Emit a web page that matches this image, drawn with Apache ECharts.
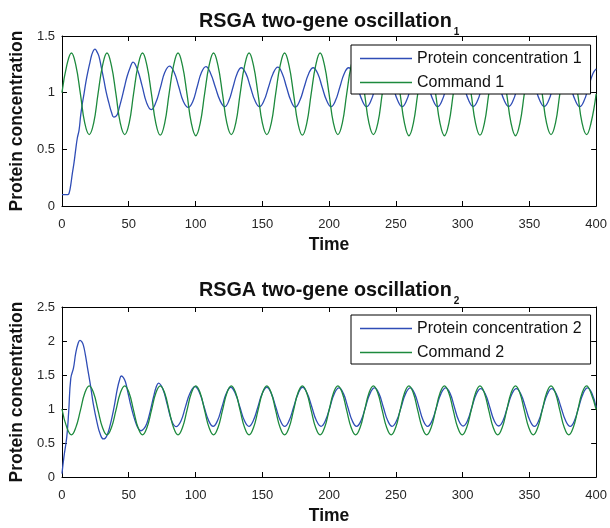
<!DOCTYPE html>
<html>
<head>
<meta charset="utf-8">
<script src="https://cdn.jsdelivr.net/npm/echarts@6/dist/echarts.min.js"></script>
<style>html,body{margin:0;padding:0;background:#fff;}#c{width:610px;height:528px;}</style>
</head>
<body>
<div id="c"></div>
<script>
// ---- data (time, value) ----
const xTicks = [0, 50, 100, 150, 200, 250, 300, 350, 400];
const yTicksTop = [0, 0.5, 1, 1.5];
const yTicksBottom = [0, 0.5, 1, 1.5, 2, 2.5];

const protein1 = [
[0,0.1],[2,0.1],[4.5,0.1],[5.5,0.12],[6.5,0.18],[7.8,0.29],[9,0.38],[10.3,0.5],[11.5,0.6],[12.8,0.67],
[14,0.8],[15.2,0.9],[16.5,0.99],[18,1.1],[19.5,1.19],[21,1.27],[22.2,1.33],[23.5,1.37],[24.7,1.385],[26.2,1.36],
[27.7,1.32],[29.5,1.22],[31.4,1.11],[33.2,1.0],[35.1,0.91],[37,0.83],[38.8,0.785],[40.2,0.79],[41.5,0.81],[43.2,0.88],
[45,0.96],[46.8,1.05],[48.7,1.14],[51,1.22],[53.2,1.27],[56.6,1.2],[60,1.06],[63.4,0.91],[66.8,0.85],[70.2,0.91],
[73.6,1.04],[77,1.18],[80.5,1.235],[84,1.18],[87.5,1.05],[91,0.92],[94.6,0.87],[97.9,0.92],[101.2,1.05],[104.5,1.18],
[107.8,1.23],[111.3,1.17],[114.8,1.05],[118.4,0.93],[121.9,0.876],
[125.0,0.93],[128.1,1.05],[131.2,1.17],[134.3,1.22],[137.7,1.17],[141.1,1.05],[144.5,0.93],[147.9,0.876],
[151.3,0.93],[154.7,1.05],[158.1,1.17],[161.6,1.225],[164.9,1.17],[168.1,1.05],[171.4,0.93],[174.7,0.872],
[178.1,0.93],[181.4,1.05],[184.8,1.17],[188.1,1.22],[191.5,1.17],[194.8,1.05],[198.2,0.93],[201.5,0.876],
[204.8,0.93],[208.1,1.05],[211.4,1.17],[214.7,1.22],[218.1,1.17],[221.4,1.05],[224.8,0.93],[228.1,0.876],
[231.4,0.93],[234.7,1.05],[238.0,1.17],[241.3,1.22],[244.7,1.17],[248.0,1.05],[251.4,0.93],[254.7,0.876],
[258.0,0.93],[261.3,1.05],[264.6,1.17],[267.9,1.22],[271.3,1.17],[274.6,1.05],[278.0,0.93],[281.3,0.876],
[284.6,0.93],[287.9,1.05],[291.2,1.17],[294.5,1.22],[297.9,1.17],[301.2,1.05],[304.6,0.93],[307.9,0.878],
[311.2,0.93],[314.5,1.05],[317.8,1.17],[321.1,1.22],[324.5,1.17],[327.8,1.05],[331.2,0.93],[334.5,0.878],
[337.8,0.93],[341.1,1.05],[344.4,1.17],[347.7,1.22],[351.1,1.17],[354.4,1.05],[357.8,0.93],[361.1,0.878],
[364.4,0.93],[367.7,1.05],[371.0,1.17],[374.3,1.22],[377.7,1.17],[381.0,1.05],[384.4,0.93],[387.7,0.876],
[391.0,0.93],[394.3,1.05],[397.6,1.17],[400,1.21]
];

const command1 = [
[0,1.0],[3.6,1.24],[7.1,1.35],[10.4,1.24],[13.8,0.99],[17.1,0.73],[20.4,0.63],[23.7,0.73],
[27.0,0.99],[30.4,1.24],[33.7,1.35],[37.0,1.24],[40.4,0.99],[43.7,0.73],[47.0,0.63],[50.3,0.73],
[53.6,0.99],[57.0,1.24],[60.3,1.35],[63.6,1.24],[67.0,0.99],[70.3,0.73],[73.6,0.625],[76.9,0.73],
[80.2,0.99],[83.6,1.24],[86.9,1.35],[90.2,1.24],[93.6,0.99],[96.9,0.73],[100.2,0.62],[103.5,0.73],
[106.8,0.99],[110.2,1.24],[113.5,1.35],[116.8,1.24],[120.2,0.99],[123.5,0.73],[126.8,0.63],[130.1,0.73],
[133.4,0.99],[136.8,1.24],[140.1,1.35],[143.4,1.24],[146.8,0.99],[150.1,0.73],[153.4,0.63],[156.7,0.73],
[160.0,0.99],[163.4,1.24],[166.7,1.35],[170.0,1.24],[173.4,0.99],[176.7,0.73],[180.0,0.625],[183.3,0.73],
[186.6,0.99],[190.0,1.24],[193.3,1.35],[196.6,1.24],[200.0,0.99],[203.3,0.73],[206.6,0.63],[209.9,0.73],
[213.2,0.99],[216.6,1.24],[219.9,1.35],[223.2,1.24],[226.6,0.99],[229.9,0.73],[233.2,0.63],[236.5,0.73],
[239.8,0.99],[243.2,1.24],[246.5,1.35],[249.8,1.24],[253.2,0.99],[256.5,0.73],[259.8,0.62],[263.1,0.73],
[266.4,0.99],[269.8,1.24],[273.1,1.35],[276.4,1.24],[279.8,0.99],[283.1,0.73],[286.4,0.62],[289.7,0.73],
[293.0,0.99],[296.4,1.24],[299.7,1.35],[303.0,1.24],[306.4,0.99],[309.7,0.73],[313.0,0.625],[316.3,0.73],
[319.6,0.99],[323.0,1.24],[326.3,1.35],[329.6,1.24],[333.0,0.99],[336.3,0.73],[339.6,0.62],[342.9,0.73],
[346.2,0.99],[349.6,1.24],[352.9,1.35],[356.2,1.24],[359.6,0.99],[362.9,0.73],[366.2,0.63],[369.5,0.73],
[372.8,0.99],[376.2,1.24],[379.5,1.35],[382.8,1.24],[386.2,0.99],[389.5,0.73],[392.8,0.63],[396.1,0.73],
[400,0.99]
];

const protein2 = [
[0,0.05],[1.5,0.3],[3.6,0.59],[5,0.95],[6.6,1.45],[8.6,1.6],[10.3,1.82],[12,1.96],[13.5,2.01],[14.8,1.99],
[16,1.94],[17.5,1.8],[19,1.62],[21.5,1.33],[23.4,1.08],[26.4,0.79],[28.5,0.64],[30.9,0.56],[32.4,0.57],[33.9,0.62],
[35.8,0.74],[37.6,0.89],[39.5,1.08],[41.3,1.28],[43,1.42],[44.5,1.485],[46,1.46],[47.5,1.4],[49.3,1.25],[51.2,1.08],
[53.3,0.92],[55.4,0.79],[57.3,0.71],[59.2,0.68],[61.4,0.71],[63.6,0.79],[66.1,0.97],[68.6,1.18],[70.5,1.32],[72.3,1.38],
[75.6,1.29],[78.9,1.06],[82.1,0.83],[85.4,0.74],[89,0.82],[92.5,1.035],[96,1.24],[99.6,1.33],[103,1.24],[106.4,1.035],
[109.8,0.83],[113.2,0.745],[116.5,0.83],[119.8,1.03],[123.1,1.23],[126.4,1.32],[129.8,1.23],[133.2,1.03],[136.6,0.83],[140,0.745],
[143.3,0.83],[146.7,1.03],[150,1.23],[153.4,1.32],[156.7,1.23],[160.1,1.03],[163.5,0.83],[166.8,0.745],[170.1,0.83],[173.5,1.03],
[176.9,1.23],[180.2,1.32],[183.6,1.23],[187.1,1.03],[190.5,0.83],[194,0.745],[197.3,0.83],[200.7,1.03],[204,1.23],[207.4,1.31],
[210.7,1.23],[214,1.03],[217.3,0.83],[220.6,0.745],[224,0.83],[227.3,1.03],[230.7,1.23],[234,1.31],[237.3,1.23],[240.6,1.03],
[243.9,0.83],[247.2,0.745],[250.6,0.83],[254,1.03],[257.4,1.23],[260.8,1.31],[264,1.23],[267.3,1.03],[270.5,0.83],[273.8,0.745],
[277.2,0.83],[280.5,1.03],[283.9,1.23],[287.3,1.31],[290.6,1.23],[293.8,1.03],[297.1,0.83],[300.4,0.75],[303.7,0.83],[307,1.03],
[310.3,1.22],[313.6,1.3],[317,1.22],[320.3,1.03],[323.6,0.83],[327,0.75],[330.3,0.83],[333.6,1.03],[336.9,1.22],[340.2,1.3],
[343.6,1.22],[347,1.03],[350.4,0.83],[353.8,0.745],[357,0.83],[360.2,1.03],[363.5,1.22],[366.7,1.3],[370.2,1.22],[373.6,1.03],
[377.1,0.83],[380.6,0.745],[383.8,0.83],[387,1.03],[390.3,1.23],[393.5,1.31],[396.8,1.23],[400,1.02]
];

const command2 = [
[0,1.0],[3.6,0.73],[7.1,0.62],[10.4,0.73],[13.8,0.98],[17.1,1.235],[20.4,1.34],[23.7,1.235],
[27.0,0.98],[30.4,0.725],[33.7,0.62],[37.0,0.725],[40.4,0.98],[43.7,1.235],[47.0,1.34],[50.3,1.235],
[53.6,0.98],[57.0,0.725],[60.3,0.62],[63.6,0.725],[67.0,0.98],[70.3,1.235],[73.6,1.34],[76.9,1.235],
[80.2,0.98],[83.6,0.725],[86.9,0.62],[90.2,0.725],[93.6,0.98],[96.9,1.235],[100.2,1.34],[103.5,1.235],
[106.8,0.98],[110.2,0.725],[113.5,0.62],[116.8,0.725],[120.2,0.98],[123.5,1.235],[126.8,1.34],[130.1,1.235],
[133.4,0.98],[136.8,0.725],[140.1,0.62],[143.4,0.725],[146.8,0.98],[150.1,1.235],[153.4,1.34],[156.7,1.235],
[160.0,0.98],[163.4,0.725],[166.7,0.62],[170.0,0.725],[173.4,0.98],[176.7,1.235],[180.0,1.34],[183.3,1.235],
[186.6,0.98],[190.0,0.725],[193.3,0.62],[196.6,0.725],[200.0,0.98],[203.3,1.235],[206.6,1.34],[209.9,1.235],
[213.2,0.98],[216.6,0.725],[219.9,0.62],[223.2,0.725],[226.6,0.98],[229.9,1.235],[233.2,1.34],[236.5,1.235],
[239.8,0.98],[243.2,0.725],[246.5,0.62],[249.8,0.725],[253.2,0.98],[256.5,1.235],[259.8,1.34],[263.1,1.235],
[266.4,0.98],[269.8,0.725],[273.1,0.62],[276.4,0.725],[279.8,0.98],[283.1,1.235],[286.4,1.34],[289.7,1.235],
[293.0,0.98],[296.4,0.725],[299.7,0.62],[303.0,0.725],[306.4,0.98],[309.7,1.235],[313.0,1.34],[316.3,1.235],
[319.6,0.98],[323.0,0.725],[326.3,0.62],[329.6,0.725],[333.0,0.98],[336.3,1.235],[339.6,1.34],[342.9,1.235],
[346.2,0.98],[349.6,0.725],[352.9,0.62],[356.2,0.725],[359.6,0.98],[362.9,1.235],[366.2,1.34],[369.5,1.235],
[372.8,0.98],[376.2,0.725],[379.5,0.62],[382.8,0.725],[386.2,0.98],[389.5,1.235],[392.8,1.34],[396.1,1.235],
[400,0.99]
];

const titles = ['RSGA two-gene oscillation', 'RSGA two-gene oscillation'];
const subs = ['1', '2'];
const legendNames = [['Protein concentration 1', 'Command 1'], ['Protein concentration 2', 'Command 2']];

// ---- styling ----
const BLUE = '#2f4db6';
const GREEN = '#1d8a3d';
const FONT = '"Liberation Sans", Arial, Helvetica, sans-serif';
const AX = {color: '#000', width: 1};
const GRIDS = [{left: 60, top: 36, width: 537, height: 170}, {left: 60, top: 307, width: 537, height: 170}];
const Y_MAX = [yTicksTop[yTicksTop.length - 1], yTicksBottom[yTicksBottom.length - 1]];

function xAxes(gi) {
  const base = {type: 'value', gridIndex: gi, min: xTicks[0], max: xTicks[xTicks.length - 1],
    interval: xTicks[1] - xTicks[0], splitLine: {show: false},
    axisLine: {show: true, onZero: false, lineStyle: AX},
    axisTick: {show: true, inside: true, length: 5, lineStyle: AX}};
  return [
    Object.assign({}, base, {position: 'bottom', name: 'Time', nameLocation: 'middle', nameGap: 30,
      nameTextStyle: {fontSize: 17.5, fontWeight: 'bold', color: '#111', fontFamily: FONT},
      axisLabel: {fontSize: 13, color: '#262626', margin: 11.5, fontFamily: FONT}}),
    Object.assign({}, base, {position: 'top', axisLabel: {show: false}})
  ];
}
function yAxes(gi) {
  const base = {type: 'value', gridIndex: gi, min: 0, max: Y_MAX[gi], interval: 0.5,
    splitLine: {show: false},
    axisLine: {show: true, onZero: false, lineStyle: AX},
    axisTick: {show: true, inside: true, length: 5, lineStyle: AX}};
  return [
    Object.assign({}, base, {position: 'left', name: 'Protein concentration', nameLocation: 'middle', nameGap: 34,
      nameTextStyle: {fontSize: 17.5, fontWeight: 'bold', color: '#111', fontFamily: FONT},
      axisLabel: {fontSize: 13, color: '#262626', margin: 7, fontFamily: FONT}}),
    Object.assign({}, base, {position: 'right', axisLabel: {show: false}})
  ];
}
function title(i, top) {
  return {text: '{t|' + titles[i] + '}{s|' + subs[i] + '}', left: 199, top: top, padding: 0,
    textStyle: {fontFamily: FONT, rich: {
      t: {fontSize: 19.8, fontWeight: 'bold', color: '#111', lineHeight: 24, verticalAlign: 'top', fontFamily: FONT},
      s: {fontSize: 10, fontWeight: 'bold', color: '#111', lineHeight: 10, verticalAlign: 'top', padding: [15, 0, 0, 2], fontFamily: FONT}
    }}};
}
function legend(i, top) {
  return {data: legendNames[i], orient: 'vertical', left: 351, top: top, padding: [5.5, 9, 3.5, 9],
    itemGap: 8, itemWidth: 52, itemHeight: 16, icon: 'path://M0,7.3H52V8.7H0Z',
    backgroundColor: '#fff', borderColor: '#000', borderWidth: 1,
    textStyle: {fontSize: 16, color: '#111', fontFamily: FONT}};
}
function line(name, data, xi, yi, color) {
  return {type: 'line', name: name, data: data, xAxisIndex: xi, yAxisIndex: yi, symbol: 'none', showSymbol: false,
    smooth: 0.45, lineStyle: {color: color, width: 1.3}, itemStyle: {color: color}, emphasis: {disabled: true}};
}

const chart = echarts.init(document.getElementById('c'), null, {renderer: 'canvas'});
chart.setOption({
  animation: false,
  backgroundColor: '#fff',
  textStyle: {fontFamily: FONT},
  title: [title(0, 12), title(1, 281)],
  legend: [legend(0, 45), legend(1, 315)],
  grid: GRIDS,
  xAxis: xAxes(0).concat(xAxes(1)),
  yAxis: yAxes(0).concat(yAxes(1)),
  series: [
    line(legendNames[0][0], protein1, 0, 0, BLUE),
    line(legendNames[0][1], command1, 0, 0, GREEN),
    line(legendNames[1][0], protein2, 2, 2, BLUE),
    line(legendNames[1][1], command2, 2, 2, GREEN)
  ]
});
</script>
</body>
</html>
